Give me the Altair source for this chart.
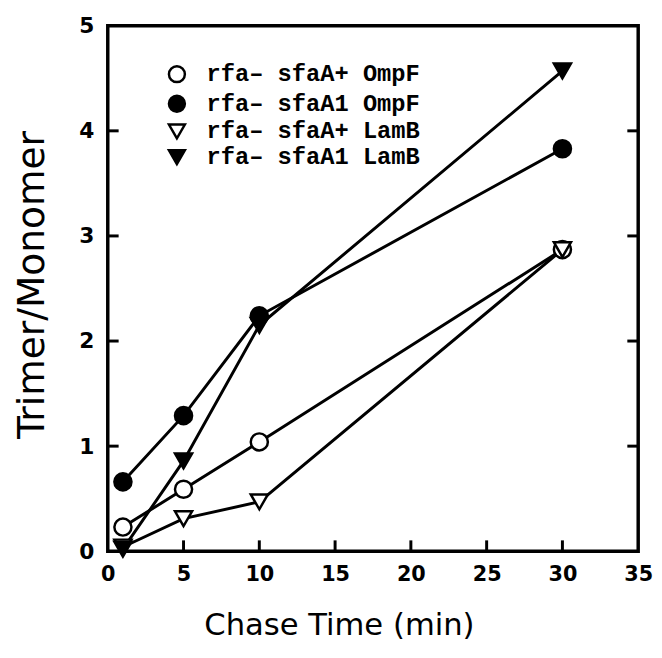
import altair as alt
import pandas as pd

# ---- data ----
times = [1, 5, 10, 30]
series_names = ["rfa– sfaA+ OmpF", "rfa– sfaA1 OmpF", "rfa– sfaA+ LamB", "rfa– sfaA1 LamB"]
open_ompf = [0.23, 0.59, 1.04, 2.87]
filled_ompf = [0.66, 1.29, 2.24, 3.83]
open_lamb = [0.04, 0.31, 0.47, 2.87]
filled_lamb = [0.02, 0.86, 2.15, 4.57]
series_values = [open_ompf, filled_ompf, open_lamb, filled_lamb]

shapes = ["circle", "circle", "triangle-down", "triangle-down"]
fills = ["white", "black", "white", "black"]
strokes = ["black", "black", "black", "black"]

x_ticks = [0, 5, 10, 15, 20, 25, 30, 35]
y_ticks = [0, 1, 2, 3, 4, 5]
x_inner_ticks = [5, 10, 15, 20, 25, 30]
y_inner_ticks = [1, 2, 3, 4]

rows = []
for name, vals in zip(series_names, series_values):
    for t, v in zip(times, vals):
        rows.append({"series": name, "t": t, "v": v})
df = pd.DataFrame(rows)

xscale = alt.Scale(domain=[0, 35], nice=False, zero=False)
yscale = alt.Scale(domain=[0, 5], nice=False, zero=False)

x_axis = alt.Axis(
    values=x_ticks, format="d", grid=False, domain=False, ticks=False,
    labelFont="DejaVu Sans", labelFontWeight="bold", labelFontSize=21,
    labelColor="black", labelPadding=13, labelFlush=False,
    title="Chase Time (min)", titleFont="DejaVu Sans", titleFontWeight="normal",
    titleFontSize=31, titleColor="black", titleX=234, titleY=60,
    titleAlign="center", titleBaseline="top",
)
y_axis = alt.Axis(
    values=y_ticks, format="d", grid=False, domain=False, ticks=False,
    labelFont="DejaVu Sans", labelFontWeight="bold", labelFontSize=22,
    labelColor="black", labelPadding=14, labelFlush=False,
    title="Trimer/Monomer", titleFont="DejaVu Sans", titleFontWeight="normal",
    titleFontSize=38, titleColor="black", titleX=-76, titleY=262,
    titleAlign="center", titleBaseline="middle", titleAngle=-90,
)

lines = alt.Chart(df).mark_line(color="black", strokeWidth=3).encode(
    x=alt.X("t:Q", scale=xscale, axis=x_axis),
    y=alt.Y("v:Q", scale=yscale, axis=y_axis),
    detail="series:N",
    order="t:Q",
)

points = alt.Chart(df).mark_point(
    filled=True, strokeWidth=2.5, opacity=1, size=300
).encode(
    x=alt.X("t:Q", scale=xscale),
    y=alt.Y("v:Q", scale=yscale),
    shape=alt.Shape("series:N", scale=alt.Scale(domain=series_names, range=shapes),
                    title=None),
    fill=alt.Fill("series:N", scale=alt.Scale(domain=series_names, range=fills),
                  title=None),
    stroke=alt.Stroke("series:N", scale=alt.Scale(domain=series_names, range=strokes),
                      title=None),
)

xt = pd.DataFrame({"p": x_inner_ticks})
yt = pd.DataFrame({"p": y_inner_ticks})

bottom_ticks = alt.Chart(xt).mark_tick(
    orient="vertical", size=11, thickness=3, color="black", opacity=1, yOffset=-5.5
).encode(x=alt.X("p:Q", scale=xscale), y=alt.Y(datum=0, scale=yscale))

left_ticks = alt.Chart(yt).mark_tick(
    orient="horizontal", size=11, thickness=3, color="black", opacity=1, xOffset=5.5
).encode(y=alt.Y("p:Q", scale=yscale), x=alt.X(datum=0, scale=xscale))

right_ticks = alt.Chart(yt).mark_tick(
    orient="horizontal", size=11, thickness=3, color="black", opacity=1, xOffset=-5.5
).encode(y=alt.Y("p:Q", scale=yscale), x=alt.X(datum=35, scale=xscale))

chart = alt.layer(bottom_ticks, left_ticks, right_ticks, lines, points).properties(
    width=537, height=532,
    autosize=alt.AutoSizeParams(type="none"),
    padding={"left": 101, "top": 14, "right": 16, "bottom": 94},
    background="white",
).configure_view(
    stroke="black", strokeWidth=3.5
).configure_legend(
    orient="top-left", offset=37, padding=0, symbolOffset=21,
    labelFont="Liberation Mono", labelFontWeight="bold", labelFontSize=24,
    labelColor="black", labelOffset=18, rowPadding=2, labelLimit=400,
    symbolSize=260, symbolStrokeWidth=2.5, symbolStrokeColor="black",
)

chart.save("out.html", embed_options={"renderer": "svg", "actions": False})
